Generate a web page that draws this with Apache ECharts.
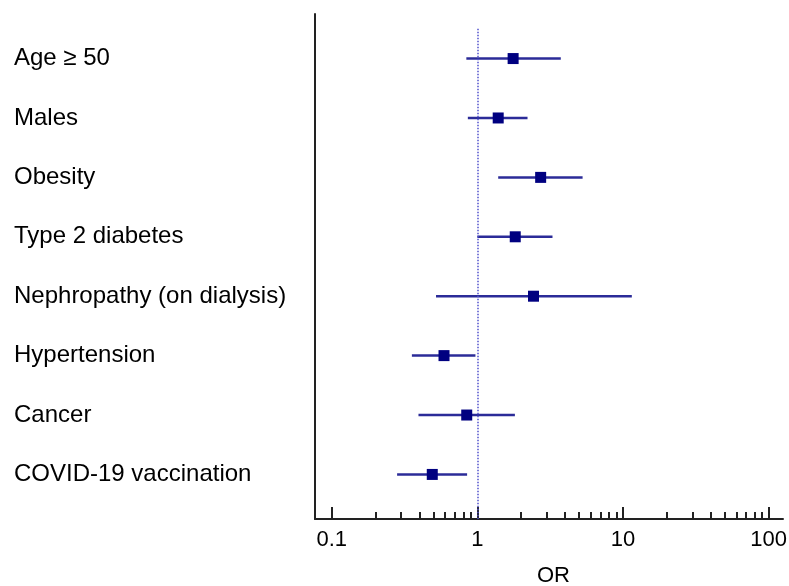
<!DOCTYPE html>
<html><head><meta charset="utf-8">
<script src="https://cdn.jsdelivr.net/npm/echarts@6/dist/echarts.min.js"></script>
<style>html,body{margin:0;padding:0;background:#fff}#c{width:789px;height:586px}</style>
</head><body><div id="c"></div>
<script>
const categories = ['Age ≥ 50', 'Males', 'Obesity', 'Type 2 diabetes', 'Nephropathy (on dialysis)', 'Hypertension', 'Cancer', 'COVID-19 vaccination'];
const orValues = [1.76, 1.39, 2.72, 1.82, 2.43, 0.59, 0.845, 0.49];
const ciLower = [0.84, 0.86, 1.39, 1.0, 0.52, 0.355, 0.394, 0.281];
const ciUpper = [3.74, 2.21, 5.28, 3.28, 11.5, 0.97, 1.81, 0.85];
const majorTicks = [0.1, 1, 10, 100];
const majorTickLabels = ['0.1', '1', '10', '100'];
const minorTicks = [0.2, 0.3, 0.4, 0.5, 0.6, 0.7, 0.8, 0.9, 2, 3, 4, 5, 6, 7, 8, 9, 20, 30, 40, 50, 60, 70, 80, 90];
const rowPositions = [1, 2, 3, 4, 5, 6, 7, 8];

const FONT = 'Liberation Sans, Arial, sans-serif';
const X_MIN = 0.0767, X_MAX = 125.6;
const chart = echarts.init(document.getElementById('c'), null, {renderer: 'canvas'});
chart.setOption({
  animation: false,
  backgroundColor: '#fff',
  grid: {left: 315, right: 6, top: 14, bottom: 67, containLabel: false, outerBoundsMode: 'none'},
  xAxis: [{
    type: 'log', logBase: 10, min: X_MIN, max: X_MAX, position: 'bottom',
    axisLine: {show: true, lineStyle: {color: '#222', width: 2}},
    axisTick: {show: true, inside: true, length: 12, customValues: majorTicks, lineStyle: {color: '#222', width: 2}},
    axisLabel: {show: true, customValues: majorTicks, margin: 10, fontSize: 22, color: '#000', fontFamily: FONT,
      formatter: v => { const i = majorTicks.findIndex(t => Math.abs(t - v) / t < 1e-6); return i >= 0 ? majorTickLabels[i] : ''; }},
    splitLine: {show: false}, minorTick: {show: false},
    name: 'OR', nameLocation: 'middle', nameGap: 46,
    nameTextStyle: {fontSize: 22, color: '#000', fontFamily: FONT, padding: [0, 0, 0, 9]}
  }, {
    type: 'log', logBase: 10, min: X_MIN, max: X_MAX, position: 'bottom', offset: 0,
    axisLine: {show: false},
    axisTick: {show: true, inside: true, length: 7, customValues: minorTicks, lineStyle: {color: '#222', width: 2}},
    axisLabel: {show: false},
    splitLine: {show: false}
  }],
  yAxis: {
    type: 'value', inverse: true, min: 0.25, max: 8.75,
    axisLine: {show: true, lineStyle: {color: '#222', width: 2}},
    axisTick: {show: false},
    splitLine: {show: false},
    axisLabel: {show: true, customValues: rowPositions, align: 'left', margin: 301, fontSize: 24, color: '#000', fontFamily: FONT,
      padding: [0, 0, 5, 0],
      formatter: v => categories[Math.round(v) - 1] || ''}
  },
  series: [{
    type: 'custom',
    xAxisIndex: 0,
    data: categories.map((c, i) => [ciLower[i], ciUpper[i], rowPositions[i]]),
    encode: {x: [0, 1], y: 2},
    renderItem: (params, api) => {
      const p1 = api.coord([api.value(0), api.value(2)]);
      const p2 = api.coord([api.value(1), api.value(2)]);
      return {type: 'line', shape: {x1: p1[0], y1: p1[1], x2: p2[0], y2: p2[1]},
        style: {stroke: '#2b2b98', lineWidth: 2.5}};
    },
    z: 2
  }, {
    type: 'scatter',
    xAxisIndex: 0,
    data: categories.map((c, i) => [orValues[i], rowPositions[i]]),
    symbol: 'rect', symbolSize: 11,
    itemStyle: {color: '#000080', opacity: 1},
    z: 3,
    markLine: {
      silent: true, symbol: 'none', label: {show: false},
      lineStyle: {type: 'dotted', color: '#5050cc', width: 1.5, opacity: 1},
      data: [[{coord: [1, 0.5]}, {coord: [1, 8.75]}]]
    }
  }]
});
</script></body></html>
